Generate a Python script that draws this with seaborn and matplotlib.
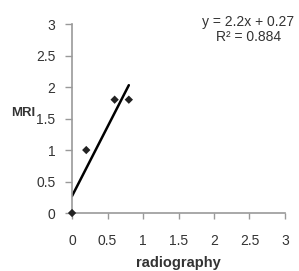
import numpy as np
import pandas as pd
import matplotlib
matplotlib.use('Agg')
import matplotlib.pyplot as plt
import seaborn as sns

# data
radiography = [0.0, 0.2, 0.6, 0.8]
mri = [0.0, 1.0, 1.8, 1.8]
tickVals = [0, 0.5, 1, 1.5, 2, 2.5, 3]
tickLabels = ['0', '0.5', '1', '1.5', '2', '2.5', '3']
eqText = 'y = 2.2x + 0.27'
r2Text = 'R² = 0.884'

df = pd.DataFrame({'radiography': radiography, 'MRI': mri})

sns.set_style('white')
plt.rcParams['font.family'] = ['Liberation Sans', 'DejaVu Sans']

fig = plt.figure(figsize=(2.99, 2.71), dpi=100)
ax = fig.add_axes([0.241, 0.214, 0.712, 0.697])

# linear fit over the data range only
sns.regplot(ax=ax, x='radiography', y='MRI', data=df, ci=None, scatter=False,
            truncate=True, color='black', line_kws={'linewidth': 1.8})
sns.scatterplot(ax=ax, x='radiography', y='MRI', data=df, marker='D', s=18,
                color='#222222', edgecolor='none', clip_on=False, zorder=5)

ax.set_xlim(0, 3)
ax.set_ylim(0, 3)
ax.set_xticks(tickVals)
ax.set_xticklabels(tickLabels)
ax.set_yticks(tickVals)
ax.set_yticklabels(tickLabels)

for side in ['top', 'right']:
    ax.spines[side].set_visible(False)
for side in ['left', 'bottom']:
    ax.spines[side].set_color('#999999')
    ax.spines[side].set_linewidth(1.2)

ax.tick_params(axis='x', direction='out', length=4, width=1, color='#999999',
               labelsize=10, labelcolor='#333333', pad=11, bottom=True)
ax.tick_params(axis='y', direction='out', length=5, width=1, color='#999999',
               labelsize=10, labelcolor='#333333', pad=7, left=True)

ax.set_xlabel('radiography', fontsize=10.5, fontweight='bold', color='#333333', labelpad=6)
ax.set_ylabel('MRI', fontsize=9.5, fontweight='bold', color='#333333', rotation=0,
              labelpad=0)
ax.yaxis.set_label_coords(-0.23, 0.5)

fig.text(0.83, 0.917, eqText, fontsize=10, color='#333333', ha='center', va='center')
fig.text(0.83, 0.862, r2Text, fontsize=10, color='#333333', ha='center', va='center')

fig.savefig('out.png', dpi=100)
